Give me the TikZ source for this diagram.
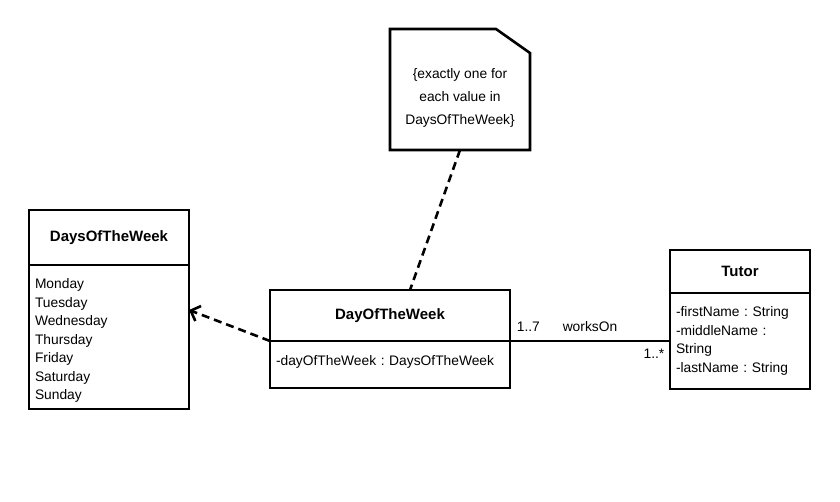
\documentclass[tikz,border=0pt]{standalone}
\usepackage{fontspec}
\setmainfont{Liberation Sans}
\usepackage{tikz}
\usetikzlibrary{positioning}
\usetikzlibrary{shapes,arrows.meta,positioning}
\frenchspacing
\tikzstyle{classhead} = [rectangle, draw, line width=2.6pt, outer sep=0pt, inner sep=0pt,
font=\fontsize{15}{17}\selectfont\bfseries, align=center]
\tikzstyle{classbody} = [rectangle, draw, line width=2.6pt, outer sep=0pt, inner xsep=6pt,
font=\fontsize{13.8}{18.5}\selectfont, align=left]
\tikzstyle{line} = [draw, line width=2.6pt]
\tikzstyle{dep} = [draw, line width=2.6pt, dash pattern=on 8pt off 5pt]
\tikzstyle{mult} = [inner sep=0pt, font=\fontsize{13.8}{16}\selectfont]

\begin{document}
\begin{tikzpicture}[x=1pt, y=-1pt]
    \useasboundingbox (0,0) rectangle (840,501);
    % nodes
    \node (dayshead) [classhead, anchor=north west, minimum width=160pt, minimum height=55pt] at (29,210) {DaysOfTheWeek};
    \node (daysbody) [classbody, below=0pt of dayshead, text width=148pt, minimum height=144pt]
        {\rule{0pt}{17pt}Monday\\Tuesday\\Wednesday\\Thursday\\Friday\\Saturday\\Sunday};
    \node (dowhead) [classhead, anchor=north west, minimum width=240pt, minimum height=51pt] at (270,290) {DayOfTheWeek};
    \node (dowbody) [classbody, below=0pt of dowhead, text width=228pt, minimum height=47pt]
        {-dayOfTheWeek : DaysOfTheWeek\rule[-9pt]{0pt}{9pt}};
    \node (tutorhead) [classhead, anchor=north west, minimum width=140pt, minimum height=43pt] at (670,250) {Tutor};
    \node (tutorbody) [classbody, below=0pt of tutorhead, text width=128pt, minimum height=96pt]
        {-firstName : String\\-middleName :\\String\\-lastName : String};
    \node (note) [anchor=north west, minimum width=140pt, minimum height=121pt, inner sep=0pt, outer sep=0pt,
        align=center, font=\fontsize{13.8}{23}\selectfont] at (390,29)
        {\rule{0pt}{27pt}\{exactly one for\\each value in\\DaysOfTheWeek\}};
    \path [line, line join=miter] (note.north west) -- ([xshift=-34pt]note.north east)
        -- ([yshift=-24pt]note.north east) -- (note.south east) -- (note.south west) -- cycle;

    % edges
    \path [dep] (note.south) -- ([xshift=20pt]dowhead.north);
    \path [dep, -{Straight Barb[length=8pt, width=16pt, line width=2.6pt]}] (dowhead.south west) -- ([yshift=27pt]daysbody.east);
    \path [line] (dowhead.south east) -- (dowhead.south east -| tutorbody.west)
        node [mult, pos=0.115, above=8pt] {1..7}
        node [mult, pos=0.5, above=8pt] {worksOn}
        node [mult, pos=0.9, below=7pt] {1..*};
\end{tikzpicture}
\end{document}
